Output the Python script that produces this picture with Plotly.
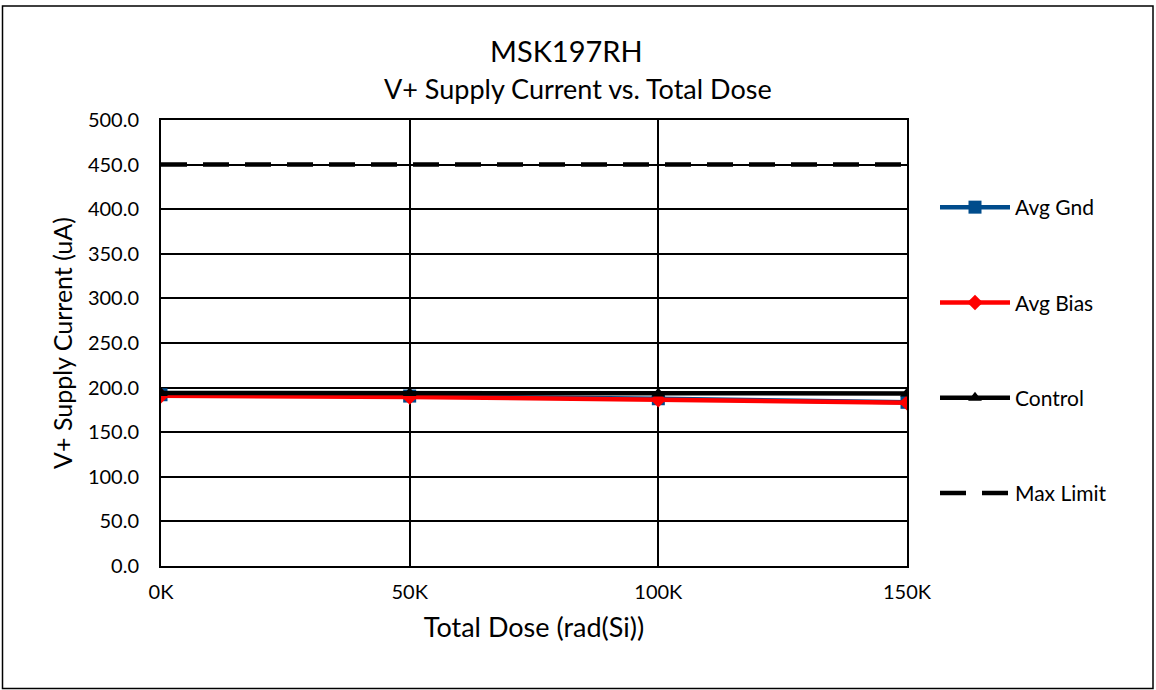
import plotly.graph_objects as go

doses = [0, 50000, 100000, 150000]
dose_labels = ["0K", "50K", "100K", "150K"]
avg_gnd = [192.0, 190.5, 187.5, 183.5]
avg_bias = [191.0, 189.5, 186.5, 183.0]
control = [194.0, 194.0, 193.5, 193.5]
max_limit = [450.0, 450.0, 450.0, 450.0]

FONT = "Lato, 'Open Sans', sans-serif"
W, H = 1156, 690
L, R, T, B = 161, 907, 120, 566
pw, ph = R - L, B - T

def px(x):
    return (x - L) / pw

def py(y):
    return (B - y) / ph

fig = go.Figure()
fig.add_trace(go.Scatter(x=doses, y=avg_gnd, name="Avg Gnd", mode="lines+markers",
                         line=dict(color="#004C8C", width=4.5),
                         marker=dict(symbol="square", size=13, color="#004C8C"),
                         legendgroup="g1"))
fig.add_trace(go.Scatter(x=doses, y=avg_bias, name="Avg Bias", mode="lines+markers",
                         line=dict(color="#FF0000", width=4.5),
                         marker=dict(symbol="diamond", size=12, color="#FF0000"),
                         legendgroup="g2"))
fig.add_trace(go.Scatter(x=doses, y=control, name="Control", mode="lines+markers",
                         line=dict(color="#000000", width=4.5),
                         marker=dict(symbol="triangle-up", size=12, color="#000000"),
                         legendgroup="g3"))
fig.add_trace(go.Scatter(x=doses, y=max_limit, name="Max Limit", mode="lines",
                         line=dict(color="#000000", width=4.5, dash="26px,16px"),
                         legendgroup="g4"))

fig.update_layout(
    width=W, height=H,
    margin=dict(l=L, r=W - R, t=T, b=H - B, autoexpand=False),
    paper_bgcolor="white", plot_bgcolor="white",
    font=dict(family=FONT, size=20, color="#000000"),
    showlegend=True,
    legend=dict(x=px(935), y=py(187), xanchor="left", yanchor="top",
                tracegroupgap=65, font=dict(size=21, family=FONT),
                itemwidth=70, bgcolor="rgba(0,0,0,0)"),
    xaxis=dict(range=[0, 150000], tickvals=doses, ticktext=dose_labels,
               showgrid=True, gridcolor="#000000", gridwidth=1.6,
               showline=True, linecolor="#000000", linewidth=2, mirror=True,
               ticks="", zeroline=False, tickfont=dict(size=20),
               ticklabelstandoff=7,
               title=dict(text="Total Dose (rad(Si))", font=dict(size=27), standoff=16)),
    yaxis=dict(range=[0, 500], dtick=50, tickformat=".1f",
               showgrid=True, gridcolor="#000000", gridwidth=1.6,
               showline=True, linecolor="#000000", linewidth=2, mirror=True,
               ticks="", zeroline=False, tickfont=dict(size=20),
               ticklabelstandoff=16,
               title=dict(text="V+ Supply Current (uA)", font=dict(size=25), standoff=8)),
    annotations=[
        dict(text="MSK197RH", x=px(566), y=py(50), xref="paper", yref="paper",
             showarrow=False, font=dict(size=29, family=FONT), xanchor="center", yanchor="middle"),
        dict(text="V+ Supply Current vs. Total Dose", x=px(578), y=py(89), xref="paper", yref="paper",
             showarrow=False, font=dict(size=27, family=FONT), xanchor="center", yanchor="middle"),
    ],
    shapes=[
        dict(type="rect", xref="paper", yref="paper",
             x0=px(2.5), x1=px(1153), y0=py(688.5), y1=py(6),
             line=dict(color="#000000", width=1.5), fillcolor="rgba(0,0,0,0)", layer="below"),
    ],
)

fig.write_html("out.html", config={"displayModeBar": False},
               post_script="document.body.style.margin='0px';document.body.style.overflow='hidden';")
